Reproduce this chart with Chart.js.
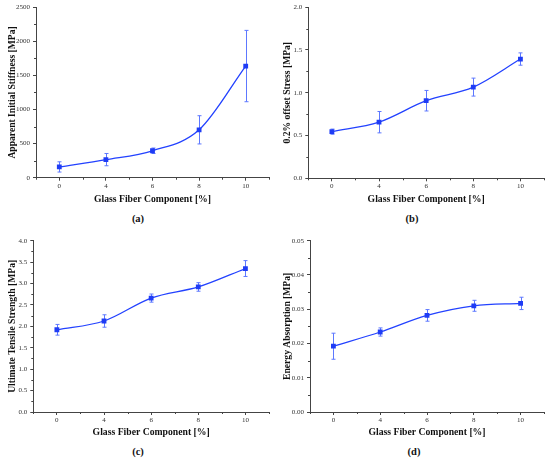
<!DOCTYPE html>
<html>
<head>
<meta charset="utf-8">
<script src="https://cdn.jsdelivr.net/npm/chart.js@4.4.1/dist/chart.umd.min.js"></script>
<style>
  body { margin: 0; background: #fff; width: 550px; height: 461px; position: relative; overflow: hidden; }
  canvas { position: absolute; }
  .cap { position: absolute; width: 40px; margin-left: -20px; text-align: center;
         font: bold 10.5px "Liberation Serif", serif; color: #111; }
</style>
</head>
<body>
<canvas id="chartA" width="275" height="210" style="left:0;top:0"></canvas>
<canvas id="chartB" width="275" height="210" style="left:275px;top:0"></canvas>
<canvas id="chartC" width="275" height="215" style="left:0;top:225px"></canvas>
<canvas id="chartD" width="275" height="215" style="left:275px;top:225px"></canvas>
<div class="cap" style="left:138px;top:213px">(a)</div>
<div class="cap" style="left:412px;top:213px">(b)</div>
<div class="cap" style="left:138px;top:446px">(c)</div>
<div class="cap" style="left:414px;top:446px">(d)</div>
<script>
// glass fiber content, categories on the x axis
const fiberLabels = ["0", "4", "6", "8", "10"];

// (a) apparent initial stiffness [MPa]
const stiffness = [158, 265, 395, 702, 1637];
const stiffnessErr = [75, 90, 40, 207, 523];

// (b) 0.2% offset stress [MPa]
const offsetStress = [0.545, 0.656, 0.907, 1.066, 1.394];
const offsetStressErr = [0.03, 0.125, 0.12, 0.105, 0.072];

// (c) ultimate tensile strength [MPa]
const tensile = [1.92, 2.125, 2.66, 2.92, 3.35];
const tensileErr = [0.125, 0.145, 0.095, 0.1, 0.185];

// (d) energy absorption [MPa]
const energy = [0.0192, 0.02335, 0.0282, 0.031, 0.0317];
const energyErr = [0.0038, 0.0012, 0.0017, 0.0016, 0.0018];

const axisColor = "#444";
const serif = "'Liberation Serif', 'Times New Roman', serif";

// vertical error bars with small caps, drawn under the markers
const errorBars = {
  id: "errorBars",
  beforeDatasetsDraw(chart) {
    const ctx = chart.ctx;
    const yScale = chart.scales.y;
    chart.data.datasets.forEach((ds, i) => {
      if (!ds.errors) return;
      const meta = chart.getDatasetMeta(i);
      ctx.save();
      ctx.strokeStyle = "#5d78ff";
      ctx.lineWidth = 1;
      meta.data.forEach((pt, j) => {
        const top = yScale.getPixelForValue(ds.data[j] + ds.errors[j]);
        const bottom = yScale.getPixelForValue(ds.data[j] - ds.errors[j]);
        const x = Math.round(pt.x) + 0.5;
        ctx.beginPath();
        ctx.moveTo(x, top); ctx.lineTo(x, bottom);
        ctx.moveTo(x - 2, top); ctx.lineTo(x + 2, top);
        ctx.moveTo(x - 2, bottom); ctx.lineTo(x + 2, bottom);
        ctx.stroke();
      });
      ctx.restore();
    });
  }
};

// minor ticks between the major ones (Origin style)
const minorTicks = {
  id: "minorTicks",
  afterDraw(chart) {
    const { ctx, scales: { x, y } } = chart;
    ctx.save();
    ctx.strokeStyle = axisColor;
    ctx.lineWidth = 1;
    ctx.beginPath();
    const step = x.getPixelForValue(1) - x.getPixelForValue(0);
    for (let i = 0; i <= fiberLabels.length; i++) {
      const px = Math.round(x.getPixelForValue(i) - step / 2) + 0.5;
      ctx.moveTo(px, y.bottom); ctx.lineTo(px, y.bottom + 2);
    }
    const ys = y.options.ticks.stepSize;
    for (let k = 0; k < Math.round((y.max - y.min) / ys); k++) {
      const py = Math.round(y.getPixelForValue(y.min + ys * (k + 0.5))) + 0.5;
      ctx.moveTo(x.left - 2, py); ctx.lineTo(x.left, py);
    }
    ctx.stroke();
    ctx.restore();
  }
};

function makePanel(id, values, errors, yTitle, max, step, decimals, box) {
  const canvas = document.getElementById(id);
  return new Chart(canvas, {
    type: "line",
    data: {
      labels: fiberLabels,
      datasets: [{
        data: values,
        errors: errors,
        borderColor: "#2342ff",
        borderWidth: 1.3,
        backgroundColor: "#1f3cf5",
        pointStyle: "rect",
        pointRadius: 3.4,
        pointBorderWidth: 0,
        cubicInterpolationMode: "monotone",
        fill: false
      }]
    },
    options: {
      responsive: false,
      animation: false,
      layout: { padding: { left: 0, right: 6, top: box.top, bottom: 0 } },
      plugins: { legend: { display: false }, tooltip: { enabled: false } },
      scales: {
        x: {
          type: "category",
          offset: true,
          afterFit: (s) => { s.height = canvas.height - box.bottom; },
          grid: { drawOnChartArea: false, drawTicks: true, tickLength: 3, color: axisColor },
          border: { display: true, color: axisColor, width: 1 },
          ticks: { padding: 1, color: "#333", font: { family: serif, size: 7 }, maxRotation: 0 },
          title: {
            display: true,
            text: "Glass Fiber Component [%]",
            color: "#111",
            font: { family: serif, size: 9.7, weight: "bold" },
            padding: { top: 0, bottom: box.titlePad }
          }
        },
        y: {
          min: 0,
          max: max,
          afterFit: (s) => { s.width = box.left; },
          grid: { drawOnChartArea: false, drawTicks: true, tickLength: 3, color: axisColor },
          border: { display: true, color: axisColor, width: 1 },
          ticks: {
            stepSize: step,
            padding: 3,
            color: "#333",
            font: { family: serif, size: 7 },
            callback: (v) => Number(v).toFixed(decimals)
          },
          title: {
            display: true,
            text: yTitle,
            color: "#111",
            font: { family: serif, size: 9.6, weight: "bold" },
            padding: { top: 7, bottom: 0 }
          }
        }
      }
    },
    plugins: [errorBars, minorTicks]
  });
}

makePanel("chartA", stiffness, stiffnessErr, "Apparent Initial Stiffness [MPa]", 2500, 500, 0,
  { left: 36, top: 6.7, bottom: 177.7, titlePad: 4.2 });
makePanel("chartB", offsetStress, offsetStressErr, "0.2% offset Stress [MPa]", 2, 0.5, 1,
  { left: 33.3, top: 6.7, bottom: 178.3, titlePad: 4.2 });
makePanel("chartC", tensile, tensileErr, "Ultimate Tensile Strength [MPa]", 4, 0.5, 1,
  { left: 33.3, top: 15.7, bottom: 187, titlePad: 1.5 });
makePanel("chartD", energy, energyErr, "Energy Absorption [MPa]", 0.05, 0.01, 2,
  { left: 35, top: 15.7, bottom: 187, titlePad: 1.5 });
</script>
</body>
</html>
